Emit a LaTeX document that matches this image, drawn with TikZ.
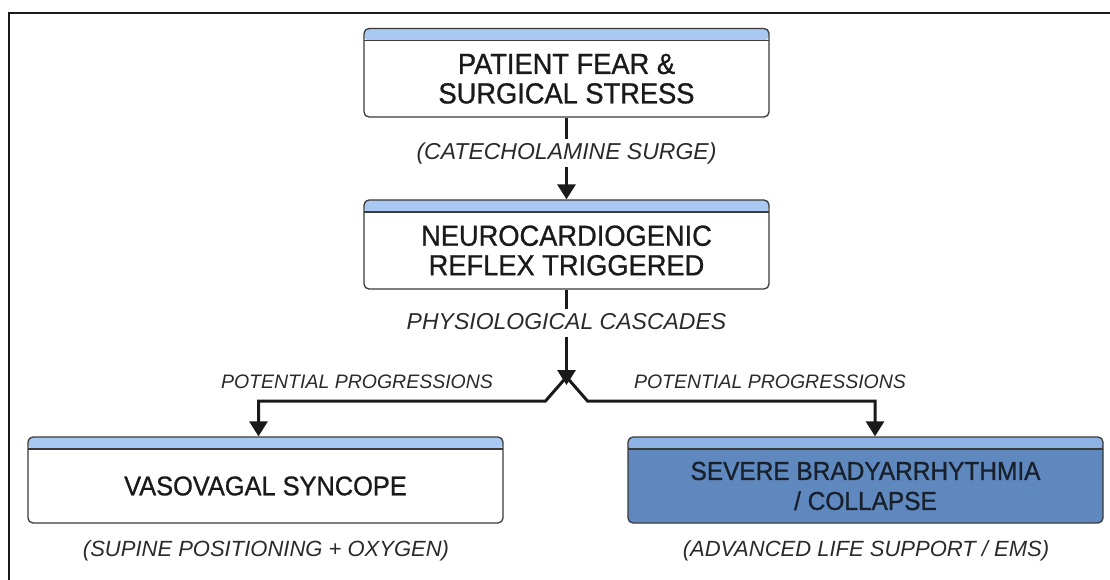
\documentclass[tikz,border=0pt]{standalone}
\usepackage{fontspec}
\setmainfont{Liberation Sans}
\newfontfamily\boxfont{Liberation Sans}[FakeBold=0.9, FakeStretch=0.94]
\usetikzlibrary{arrows.meta}
\definecolor{stripA}{HTML}{A9C9F2}
\definecolor{stripB}{HTML}{8DB2E4}
\definecolor{boxline}{HTML}{3A3A3A}
\definecolor{darkbox}{HTML}{5F88BF}
\definecolor{txt}{HTML}{1A1A1A}
\definecolor{txtdark}{HTML}{18202C}
\definecolor{lblcol}{HTML}{2A2A2A}
\definecolor{framecol}{HTML}{1A1A1A}
\begin{document}
\begin{tikzpicture}[x=1pt,y=-1pt,
  box/.style={draw=boxline, line width=1.3pt, rounded corners=5pt, fill=white,
    minimum width=405pt, minimum height=88pt, inner sep=0pt,
    path picture={
      \fill[#1] (path picture bounding box.north west) rectangle ([yshift=-12pt]path picture bounding box.north east);
      \draw[boxline, line width=1.2pt] ([yshift=-12pt]path picture bounding box.north west) -- ([yshift=-12pt]path picture bounding box.north east);}},
  box/.default=stripA,
  boxtxt/.style={align=center, text=txt, inner sep=0pt, font=\boxfont\fontsize{29}{29.5}\selectfont},
  boxtxtv/.style={align=center, text=txt, inner sep=0pt, font=\boxfont\fontsize{27}{30}\selectfont},
  boxtxtb/.style={align=center, text=txt, inner sep=0pt, font=\boxfont\fontsize{26}{30}\selectfont},
  lbl/.style={text=lblcol, font=\fontsize{23}{27}\selectfont\itshape},
  lblp/.style={text=lblcol, font=\fontsize{19.5}{24}\selectfont\itshape},
  lbls/.style={text=lblcol, font=\fontsize{22}{26}\selectfont\itshape},
  line/.style={draw=framecol, line width=3pt},
  conn/.style={line, -{Triangle[width=18pt,length=15pt]}}
]
\useasboundingbox (0,0) rectangle (1110,579);
\fill[white] (0,0) rectangle (1110,579);
\draw[framecol, line width=2pt] (9,620) -- (9,13) -- (1140,13);

% boxes
\node[box, minimum height=88.5pt] (b1) at (566.5,72.75) {};
\node[boxtxt] (t1) at ([yshift=-6pt]b1.center) {PATIENT FEAR \&\\SURGICAL STRESS};
\node[box, minimum height=89pt] (b2) at (566.5,244.5) {};
\node[boxtxt] (t2) at ([yshift=-6pt]b2.center) {NEUROCARDIOGENIC\\REFLEX TRIGGERED};
\node[box, minimum width=475pt, minimum height=86pt] (b3) at (265.5,480) {};
\node[boxtxtv] (t3) at ([yshift=-6pt]b3.center) {VASOVAGAL SYNCOPE};
\node[box=stripB, fill=darkbox, minimum width=475pt, minimum height=86pt] (b4) at (865.5,480) {};
\node[boxtxtb, text=txtdark] (t4) at ([yshift=-6pt]b4.center) {SEVERE BRADYARRHYTHMIA\\/ COLLAPSE};

% labels
\node[lbl, anchor=base] (l1) at (566.5,159) {(CATECHOLAMINE SURGE)};
\node[lbl, anchor=base] (l2) at (566.5,329) {PHYSIOLOGICAL CASCADES};
\node[lblp, anchor=base] (p1) at (357,388) {POTENTIAL PROGRESSIONS};
\node[lblp, anchor=base] (p2) at (770,388) {POTENTIAL PROGRESSIONS};
\node[lbls, anchor=base] (s1) at (266,556) {(SUPINE POSITIONING + OXYGEN)};
\node[lbls, anchor=base] (s2) at (866,556) {(ADVANCED LIFE SUPPORT / EMS)};

% connectors
\coordinate (j) at (566.5,385);
\coordinate (jx) at (566.5,377);
\draw[line] (b1.south) -- (b1.south |- l1.north);
\draw[conn] (l1.south) -- (b2.north);
\draw[line] (b2.south) -- (b2.south |- l2.north);
\draw[conn] (jx) -- ++(-21,24) -| ([xshift=-7pt]b3.north);
\draw[conn] (jx) -- ++(21,24) -| ([xshift=9.5pt]b4.north);
\draw[conn] ([yshift=-4pt]l2.south) -- (j);
\end{tikzpicture}
\end{document}
